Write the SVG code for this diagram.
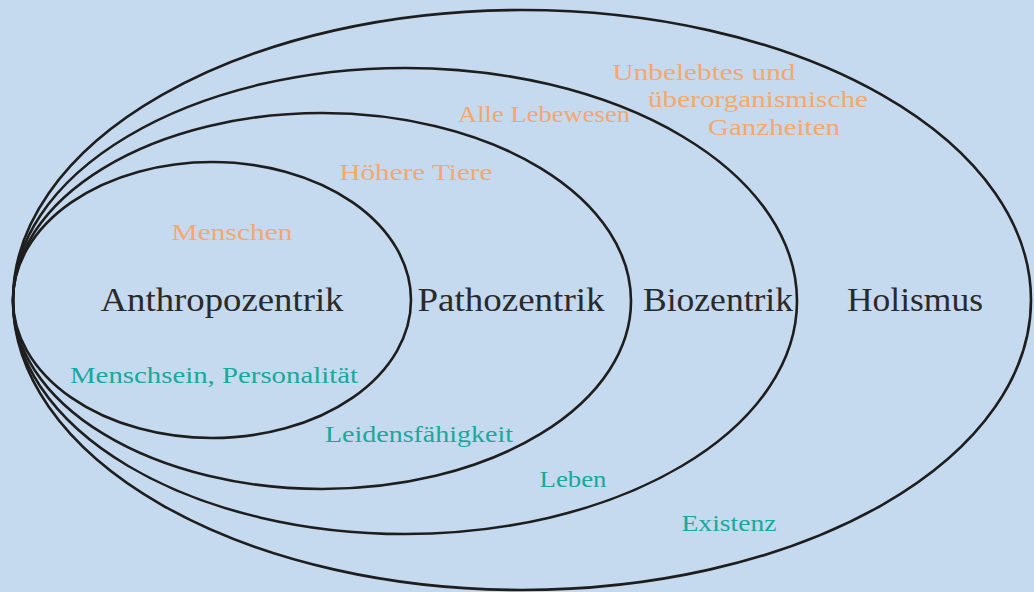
<svg xmlns="http://www.w3.org/2000/svg" width="1034" height="592" viewBox="0 0 1034 592">
<style>
.e{fill:none;stroke:#1e1e1e;stroke-width:2.6}
.m{font-family:"Liberation Serif",serif;font-size:34px;fill:#2a2a2a;text-anchor:middle}
.g{font-family:"Liberation Serif",serif;font-size:24px;fill:#17a99b;text-anchor:middle}
.o{font-family:"Liberation Serif",serif;font-size:23px;fill:#f5a86c;text-anchor:middle}
</style>
<rect width="1034" height="592" fill="#c5d9ef"/>
<g id="holismus">
<ellipse class="e" cx="522" cy="300" rx="509" ry="290"/>
<text class="m" x="915" y="311" textLength="136" lengthAdjust="spacingAndGlyphs">Holismus</text>
<text class="g" x="729" y="531" textLength="95" lengthAdjust="spacingAndGlyphs">Existenz</text>
<text class="o" x="704" y="80" textLength="183" lengthAdjust="spacingAndGlyphs">Unbelebtes und</text>
<text class="o" x="758" y="107" textLength="220" lengthAdjust="spacingAndGlyphs">überorganismische</text>
<text class="o" x="774" y="135" textLength="132" lengthAdjust="spacingAndGlyphs">Ganzheiten</text>
</g>
<g id="biozentrik">
<ellipse class="e" cx="405" cy="301" rx="392" ry="233"/>
<text class="m" x="718" y="311" textLength="150" lengthAdjust="spacingAndGlyphs">Biozentrik</text>
<text class="g" x="573" y="487" textLength="67" lengthAdjust="spacingAndGlyphs">Leben</text>
<text class="o" x="544" y="122" textLength="172" lengthAdjust="spacingAndGlyphs">Alle Lebewesen</text>
</g>
<g id="pathozentrik">
<ellipse class="e" cx="322" cy="301" rx="309" ry="188"/>
<text class="m" x="511" y="311" textLength="187" lengthAdjust="spacingAndGlyphs">Pathozentrik</text>
<text class="g" x="419" y="442" textLength="188" lengthAdjust="spacingAndGlyphs">Leidensfähigkeit</text>
<text class="o" x="416" y="180" textLength="153" lengthAdjust="spacingAndGlyphs">Höhere Tiere</text>
</g>
<g id="anthropozentrik">
<ellipse class="e" cx="212" cy="300" rx="199" ry="138"/>
<text class="m" x="222" y="311" textLength="243" lengthAdjust="spacingAndGlyphs">Anthropozentrik</text>
<text class="g" x="214" y="383" textLength="288" lengthAdjust="spacingAndGlyphs">Menschsein, Personalität</text>
<text class="o" x="232" y="240" textLength="121" lengthAdjust="spacingAndGlyphs">Menschen</text>
</g>
<g id="connectors"/>
</svg>
